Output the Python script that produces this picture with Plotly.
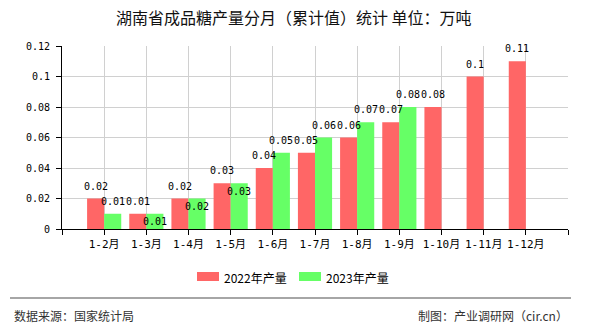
import plotly.graph_objects as go

# ---------------- data ----------------
categories = ["1-2月", "1-3月", "1-4月", "1-5月", "1-6月", "1-7月",
              "1-8月", "1-9月", "1-10月", "1-11月", "1-12月"]
series_names = ["2022年产量", "2023年产量"]
values_2022 = [0.02, 0.01, 0.02, 0.03, 0.04, 0.05, 0.06, 0.07, 0.08, 0.1, 0.11]
values_2023 = [0.01, 0.01, 0.02, 0.03, 0.05, 0.06, 0.07, 0.08, None, None, None]
y_tick_values = [0, 0.02, 0.04, 0.06, 0.08, 0.1, 0.12]
y_tick_labels = ["0", "0.02", "0.04", "0.06", "0.08", "0.1", "0.12"]
title_text = "湖南省成品糖产量分月（累计值）统计 单位：万吨"
source_text = "数据来源：国家统计局"
maker_text = "制图：产业调研网（cir.cn）"

# ---------------- style ----------------
W, H = 590, 330
PL, PR, PT, PB = 62, 568, 46, 229  # plot area in pixels
colors = ["#FF6666", "#66FF66"]
MONO = "DejaVu Sans Mono, Liberation Mono, monospace"
CJK = "Noto Sans CJK SC, sans-serif"
BARGAP = 0.19
inside_label_2023 = {"1-3月", "1-4月", "1-5月"}  # labels drawn just inside the bar top


def px(x):
    return (x - PL) / (PR - PL)


def py(y):
    return (PB - y) / (PB - PT)


x_pos = list(range(1, len(categories) + 1))
all_series = [values_2022, values_2023]

fig = go.Figure()
for name, vals, col in zip(series_names, all_series, colors):
    fig.add_trace(go.Bar(x=x_pos, y=vals, name=name, marker=dict(color=col, line=dict(width=0)),
                         showlegend=False, hoverinfo="x+y"))

# value labels
half = (1 - BARGAP) / 4
annotations = []
for s, vals in enumerate(all_series):
    off = -half if s == 0 else half
    for cat, xv, v in zip(categories, x_pos, vals):
        if v is None:
            continue
        shift = 12.5
        if s == 1 and cat in inside_label_2023:
            shift = -8
        annotations.append(dict(x=xv + off, y=v, xref="x", yref="y", text=f"{v:g}",
                                showarrow=False, yshift=shift, xanchor="center", yanchor="middle",
                                font=dict(family=MONO, size=10, color="#000")))

# title
annotations.append(dict(x=px(294), y=py(17), xref="paper", yref="paper", text=title_text,
                        showarrow=False, xanchor="center", yanchor="middle",
                        font=dict(family=CJK, size=16, color="#111")))
# custom legend
shapes = []
legend_x = [197, 299]
for name, col, lx in zip(series_names, colors, legend_x):
    shapes.append(dict(type="rect", xref="paper", yref="paper", x0=px(lx), x1=px(lx + 22),
                       y0=py(281), y1=py(272), fillcolor=col, line=dict(width=0)))
    annotations.append(dict(x=px(lx + 25), y=py(277), xref="paper", yref="paper", text=name,
                            showarrow=False, xanchor="left", yanchor="middle",
                            font=dict(family=CJK, size=12, color="#000")))
# footer
shapes.append(dict(type="line", xref="paper", yref="paper", x0=px(10), x1=px(571),
                   y0=py(298), y1=py(298), line=dict(color="#888888", width=1.5)))
annotations.append(dict(x=px(12), y=py(315), xref="paper", yref="paper", text=source_text,
                        showarrow=False, xanchor="left", yanchor="middle",
                        font=dict(family=CJK, size=12, color="#333")))
annotations.append(dict(x=px(570), y=py(315), xref="paper", yref="paper", text=maker_text,
                        showarrow=False, xanchor="right", yanchor="middle",
                        font=dict(family=CJK, size=12, color="#333")))

fig.update_layout(
    width=W, height=H,
    margin=dict(l=PL, r=W - PR, t=PT, b=H - PB, pad=0),
    paper_bgcolor="white", plot_bgcolor="white",
    barmode="group", bargap=BARGAP, bargroupgap=0,
    showlegend=False,
    annotations=annotations, shapes=shapes,
    xaxis=dict(
        range=[0, len(categories) + 1],
        tickmode="array",
        tickvals=[0] + x_pos + [len(categories) + 1],
        ticktext=[""] + categories + [""],
        showgrid=True, gridcolor="#D0D0D0", gridwidth=1,
        showline=True, linecolor="#000", linewidth=1,
        ticks="outside", ticklen=5, tickcolor="#000",
        tickfont=dict(family=MONO + ", " + CJK, size=11, color="#000"),
        zeroline=False, fixedrange=True,
    ),
    yaxis=dict(
        range=[0, 0.12],
        tickmode="array", tickvals=y_tick_values, ticktext=y_tick_labels,
        showgrid=True, gridcolor="#D0D0D0", gridwidth=1,
        showline=True, linecolor="#000", linewidth=1,
        ticks="outside", ticklen=5, tickcolor="#000",
        ticklabelstandoff=4,
        tickfont=dict(family=MONO, size=10, color="#000"),
        zeroline=False, fixedrange=True,
    ),
)

fig.write_html("out.html")
